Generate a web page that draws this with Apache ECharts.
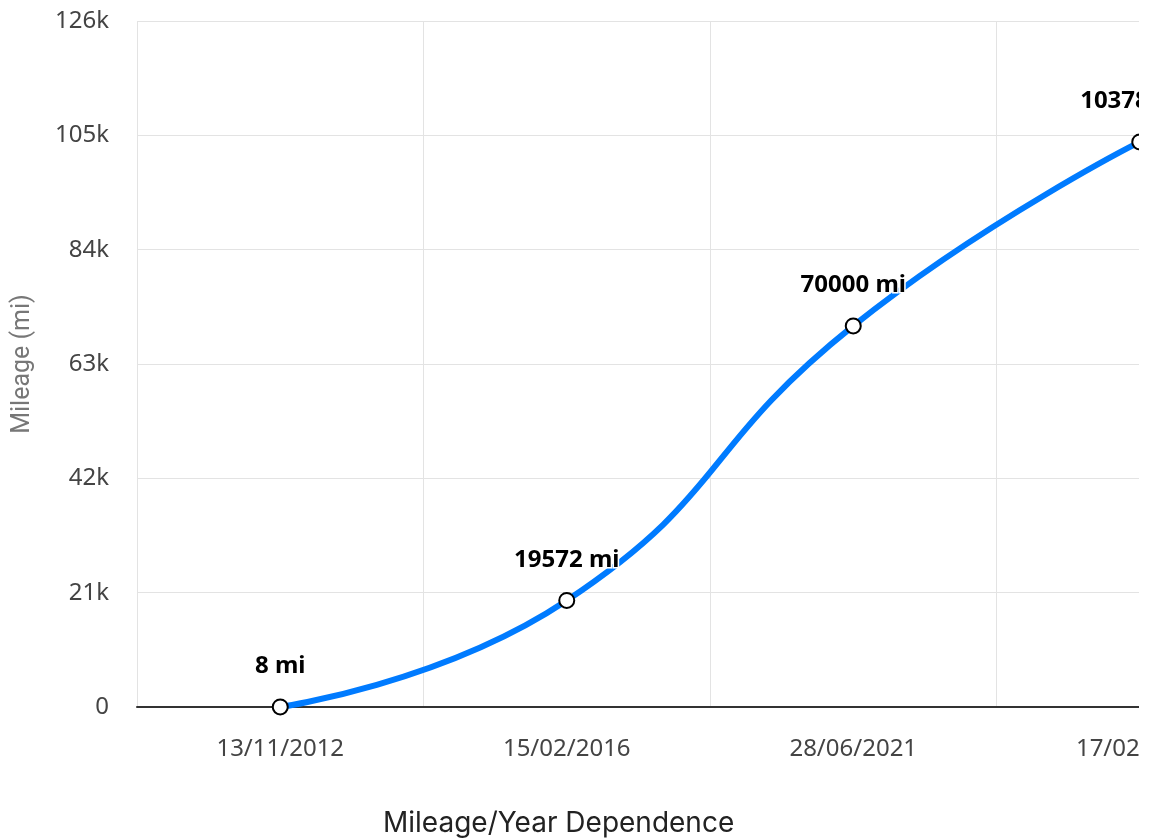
<!DOCTYPE html>
<html>
<head>
<meta charset="utf-8">
<script src="https://cdn.jsdelivr.net/npm/echarts@6/dist/echarts.min.js"></script>
<style>html{background:#fff;}body{margin:0;padding:0;background:#fff;overflow:hidden;width:1139px;height:840px;}#c{width:1283px;height:840px;}</style>
</head>
<body>
<div id="c"></div>
<script>
var categories = ['13/11/2012', '15/02/2016', '28/06/2021', '17/02/2025'];
var mileage = [8, 19572, 70000, 103785];
var yMin = 0, yMax = 126000, yInterval = 21000;

var chart = echarts.init(document.getElementById('c'), null, {renderer: 'canvas'});
chart.setOption({
  animation: false,
  backgroundColor: '#fff',
  title: {
    text: 'Mileage/Year Dependence',
    left: 378, top: 805,
    textStyle: {fontFamily: 'Inter', fontSize: 28, fontWeight: 'normal', color: '#222'}
  },
  grid: {left: 137, top: 21, bottom: 133, right: 0, containLabel: false},
  xAxis: {
    type: 'category',
    data: categories,
    boundaryGap: true,
    axisLine: {show: true, lineStyle: {color: '#333', width: 2}},
    axisTick: {show: false},
    axisLabel: {color: '#444', fontFamily: 'Noto Sans', fontSize: 24, margin: 30},
    splitLine: {show: true, lineStyle: {color: '#e3e3e3', width: 1}}
  },
  yAxis: {
    type: 'value',
    min: yMin, max: yMax, interval: yInterval,
    name: 'Mileage (mi)',
    nameLocation: 'middle',
    nameGap: 102,
    nameTextStyle: {fontFamily: 'Roboto', fontSize: 25, color: '#777'},
    axisLine: {show: false},
    axisTick: {show: false},
    axisLabel: {
      color: '#444', fontFamily: 'Noto Sans', fontSize: 24, margin: 28,
      formatter: function (v) { return v === 0 ? '0' : (v / 1000) + 'k'; }
    },
    splitLine: {show: true, lineStyle: {color: '#e3e3e3', width: 1}}
  },
  series: [{
    type: 'line',
    data: mileage,
    smooth: true,
    symbol: 'circle',
    symbolSize: 15,
    itemStyle: {color: '#fff', borderColor: '#000', borderWidth: 2},
    lineStyle: {color: '#007bff', width: 6},
    label: {
      show: true, position: 'top', distance: 20,
      formatter: function (p) { return p.value + ' mi'; },
      fontFamily: 'Noto Sans', fontSize: 24, fontWeight: 'bold', color: '#000',
      textBorderColor: '#fff', textBorderWidth: 3
    },
    z: 3
  }]
});
</script>
</body>
</html>
